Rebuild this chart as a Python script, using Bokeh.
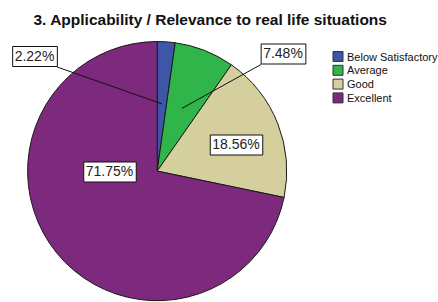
import numpy as np
from bokeh.plotting import figure
from bokeh.models import Range1d
from bokeh.core.properties import value
from bokeh.embed import file_html
from bokeh.resources import INLINE

# ---- data ----
categories = ["Below Satisfactory", "Average", "Good", "Excellent"]
percents = [2.22, 7.48, 18.56, 71.75]
colors = ["#3E56A8", "#2FB54A", "#D5CF9D", "#7D2A7E"]
title_text = "3. Applicability / Relevance to real life situations"

# ---- layout (image pixel coordinates; y is negated) ----
W, H = 438, 302
p = figure(width=W, height=H, output_backend="svg", toolbar_location=None,
           x_range=Range1d(0, W), y_range=Range1d(-H, 0),
           min_border=0, outline_line_color=None)
p.axis.visible = False
p.grid.visible = False
p.background_fill_color = "white"
p.border_fill_color = "white"

cx, cy, R = 156.7, -170.6, 129.6
total = sum(percents)
fr = np.array(percents) / total
cum = np.concatenate([[0], np.cumsum(fr)])
starts = 90 - cum[1:] * 360
ends = 90 - cum[:-1] * 360

p.wedge(x=[cx] * 4, y=[cy] * 4, radius=R, start_angle=list(starts), end_angle=list(ends),
        start_angle_units="deg", end_angle_units="deg", direction="anticlock",
        fill_color=colors, line_color="#1a1a1a", line_width=1)

# leader lines for small slices
mids = np.deg2rad((starts + ends) / 2)
inner = [(cx + 0.52 * R * np.cos(m), cy + 0.52 * R * np.sin(m)) for m in mids]
box_corners = {0: (56.7, -66.5), 1: (260.5, -64.0)}
for i, (bx, by) in box_corners.items():
    p.line([bx, inner[i][0]], [by, inner[i][1]], line_color="#111111", line_width=1)

# percentage labels
label_pos = [(34.5, -56.0), (283.0, -53.5), (236.0, -144.5), (109.5, -171.5)]
p.text(x=[lp[0] for lp in label_pos], y=[lp[1] for lp in label_pos],
       text=[f"{v:.2f}%" for v in percents],
       text_font=value("Liberation Sans"), text_font_size="14px",
       text_color="#222222", text_align="center", text_baseline="middle",
       background_fill_color="white", border_line_color="#111111",
       border_line_width=1, padding=[2, 3, 1, 3])

# title
p.text(x=[210], y=[-19.2], text=[title_text], text_font=value("Liberation Sans"),
       text_font_size="15.5px", text_font_style="bold", text_color="#111111",
       text_align="center", text_baseline="alphabetic")

# legend
leg_y = [-56.0, -69.8, -83.6, -97.4]
p.rect(x=[337.5] * 4, y=leg_y, width=10, height=10, fill_color=colors,
       line_color="#333333", line_width=1)
p.text(x=[346.5] * 4, y=leg_y, text=categories, text_font=value("Liberation Sans"),
       text_font_size="11px", text_color="#111111", text_align="left",
       text_baseline="middle")

open("out.html", "w").write(file_html(p, INLINE))
